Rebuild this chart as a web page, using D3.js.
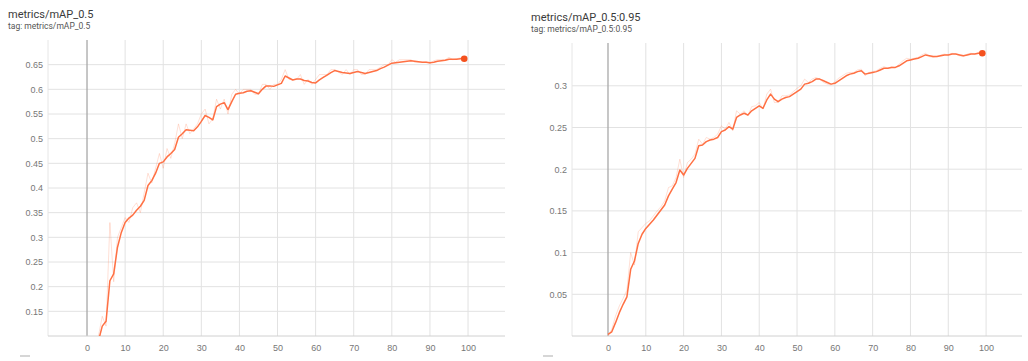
<!DOCTYPE html>
<html>
<head>
<meta charset="utf-8">
<script src="https://cdnjs.cloudflare.com/ajax/libs/d3/7.8.5/d3.min.js"></script>
<style>
  body { margin: 0; background: #fff; }
  svg { font-family: Roboto, "Noto Sans", sans-serif; }
  .tick text { fill: #777; font-size: 9px; }
</style>
</head>
<body>
<svg id="chart" width="1028" height="361"></svg>
<script>
// epochs 0..99
var epochs = d3.range(0, 100);

// metrics/mAP_0.5 (smoothed line and faint raw line)
var map50Smooth = [0.01, 0.03, 0.06, 0.09, 0.12, 0.13, 0.212, 0.226, 0.28, 0.31,
  0.33, 0.339, 0.345, 0.355, 0.363, 0.375, 0.405, 0.415, 0.43, 0.45,
  0.453, 0.463, 0.47, 0.478, 0.503, 0.51, 0.518, 0.517, 0.516, 0.524,
  0.535, 0.547, 0.543, 0.538, 0.565, 0.57, 0.573, 0.559, 0.575, 0.59,
  0.592, 0.593, 0.596, 0.597, 0.594, 0.591, 0.6, 0.607, 0.607, 0.606,
  0.609, 0.612, 0.627, 0.623, 0.619, 0.621, 0.621, 0.618, 0.617, 0.614,
  0.613, 0.619, 0.624, 0.629, 0.634, 0.638, 0.636, 0.634, 0.633, 0.632,
  0.634, 0.636, 0.634, 0.632, 0.634, 0.636, 0.638, 0.642, 0.645, 0.649,
  0.653, 0.654, 0.655, 0.656, 0.657, 0.658, 0.657, 0.656, 0.655, 0.655,
  0.654, 0.655, 0.657, 0.658, 0.659, 0.661, 0.661, 0.661, 0.662, 0.662];
var map50Raw = [0.0, 0.04, 0.07, 0.1, 0.14, 0.12, 0.33, 0.21, 0.3, 0.32,
  0.34, 0.33, 0.36, 0.37, 0.35, 0.39, 0.43, 0.41, 0.44, 0.47,
  0.44, 0.48, 0.46, 0.49, 0.53, 0.5, 0.53, 0.51, 0.52, 0.53,
  0.55, 0.56, 0.53, 0.54, 0.58, 0.56, 0.58, 0.55, 0.59, 0.6,
  0.59, 0.6, 0.6, 0.6, 0.59, 0.59, 0.61, 0.61, 0.6, 0.61,
  0.61, 0.62, 0.64, 0.62, 0.62, 0.62, 0.63, 0.61, 0.62, 0.61,
  0.62, 0.63, 0.63, 0.63, 0.64, 0.64, 0.635, 0.63, 0.64, 0.63,
  0.64, 0.64, 0.63, 0.63, 0.64, 0.64, 0.64, 0.645, 0.65, 0.65,
  0.66, 0.655, 0.66, 0.66, 0.66, 0.66, 0.655, 0.655, 0.655, 0.656,
  0.652, 0.658, 0.66, 0.66, 0.66, 0.665, 0.66, 0.662, 0.664, 0.662];

// metrics/mAP_0.5:0.95
var map5095Smooth = [0.002, 0.005, 0.016, 0.028, 0.038, 0.047, 0.08, 0.09, 0.111, 0.122,
  0.129, 0.134, 0.139, 0.145, 0.151, 0.157, 0.168, 0.176, 0.184, 0.199,
  0.193, 0.201, 0.207, 0.213, 0.228, 0.229, 0.233, 0.235, 0.236, 0.238,
  0.245, 0.247, 0.251, 0.248, 0.262, 0.265, 0.267, 0.265, 0.27, 0.273,
  0.276, 0.273, 0.283, 0.29, 0.284, 0.281, 0.284, 0.286, 0.287, 0.29,
  0.293, 0.296, 0.302, 0.303, 0.305, 0.308, 0.308, 0.306, 0.304, 0.302,
  0.303, 0.306, 0.309, 0.312, 0.314, 0.315, 0.317, 0.318, 0.314, 0.315,
  0.316, 0.317, 0.319, 0.321, 0.321, 0.322, 0.322, 0.324, 0.327, 0.33,
  0.331, 0.332, 0.333, 0.335, 0.337, 0.336, 0.335, 0.335, 0.336, 0.337,
  0.337, 0.338, 0.338, 0.337, 0.336, 0.337, 0.338, 0.338, 0.339, 0.339];
var map5095Raw = [0.0, 0.008, 0.024, 0.036, 0.045, 0.055, 0.1, 0.085, 0.125, 0.13,
  0.135, 0.138, 0.144, 0.15, 0.155, 0.162, 0.178, 0.18, 0.19, 0.212,
  0.19, 0.208, 0.212, 0.218, 0.236, 0.23, 0.238, 0.236, 0.238, 0.242,
  0.252, 0.248, 0.256, 0.246, 0.27, 0.266, 0.27, 0.264, 0.275, 0.276,
  0.28, 0.272, 0.29, 0.296, 0.28, 0.28, 0.288, 0.288, 0.289, 0.293,
  0.297, 0.3, 0.308, 0.304, 0.308, 0.31, 0.308, 0.304, 0.302, 0.301,
  0.305, 0.309, 0.312, 0.315, 0.316, 0.316, 0.319, 0.32, 0.312, 0.316,
  0.317, 0.318, 0.321, 0.323, 0.321, 0.323, 0.322, 0.326, 0.33, 0.333,
  0.332, 0.333, 0.334, 0.337, 0.339, 0.335, 0.334, 0.335, 0.337, 0.338,
  0.337, 0.339, 0.338, 0.336, 0.335, 0.338, 0.339, 0.338, 0.34, 0.339];

var leftYTicks = [0.15, 0.2, 0.25, 0.3, 0.35, 0.4, 0.45, 0.5, 0.55, 0.6, 0.65];
var rightYTicks = [0.05, 0.1, 0.15, 0.2, 0.25, 0.3];
var xTicks = [0, 10, 20, 30, 40, 50, 60, 70, 80, 90, 100];

var svg = d3.select("#chart");
var orange = "#ff7043";

function drawPanel(cfg) {
  var g = svg.append("g");

  var x = d3.scaleLinear().domain(cfg.xDomain).range([cfg.left, cfg.right]);
  var y = d3.scaleLinear().domain(cfg.yDomain).range([cfg.bottom, cfg.top]);

  // titles
  g.append("text").attr("x", cfg.titleX).attr("y", cfg.titleY)
    .attr("font-size", 11).attr("fill", "#3a3a3a").text(cfg.title);
  g.append("text").attr("x", cfg.titleX).attr("y", cfg.titleY + 11)
    .attr("font-size", 8.5).attr("fill", "#555").text("tag: " + cfg.title);

  // horizontal grid
  g.selectAll(".hgrid").data(cfg.yTicks).enter().append("line")
    .attr("x1", cfg.left).attr("x2", cfg.right)
    .attr("y1", function(d) { return y(d); })
    .attr("y2", function(d) { return y(d); })
    .attr("stroke", "#e2e2e2").attr("stroke-width", 1);

  // vertical grid
  g.selectAll(".vgrid").data(xTicks).enter().append("line")
    .attr("x1", function(d) { return x(d); })
    .attr("x2", function(d) { return x(d); })
    .attr("y1", cfg.top).attr("y2", cfg.bottom)
    .attr("stroke", function(d) { return d == 0 ? "#a8a8a8" : "#e2e2e2"; })
    .attr("stroke-width", function(d) { return d == 0 ? 1.3 : 1; });

  // left edge + bottom axis lines
  g.append("line").attr("x1", cfg.left).attr("x2", cfg.left)
    .attr("y1", cfg.top).attr("y2", cfg.bottom)
    .attr("stroke", "#e6e6e6");

  var xAxis = d3.axisBottom(x).tickValues(xTicks).tickSize(0).tickPadding(7)
    .tickFormat(d3.format("d"));
  var xg = g.append("g").attr("transform", "translate(0," + cfg.bottom + ")").call(xAxis);
  xg.select(".domain").attr("stroke", "#d0d0d0").attr("d", "M" + cfg.left + ",0H" + cfg.right);
  xg.selectAll(".tick text").attr("dy", "0.9em");

  var yAxis = d3.axisLeft(y).tickValues(cfg.yTicks).tickSize(0).tickPadding(5)
    .tickFormat(function(d) { return +d.toFixed(2) + ""; });
  var yg = g.append("g").attr("transform", "translate(" + cfg.left + ",0)").call(yAxis);
  yg.select(".domain").remove();

  // clip to plot area
  var clipId = "clip-" + cfg.id;
  svg.append("clipPath").attr("id", clipId).append("rect")
    .attr("x", cfg.left).attr("y", cfg.top)
    .attr("width", cfg.right - cfg.left).attr("height", cfg.bottom - cfg.top);

  var plot = g.append("g").attr("clip-path", "url(#" + clipId + ")");

  var line = d3.line()
    .x(function(d, i) { return x(epochs[i]); })
    .y(function(d) { return y(d); });

  plot.append("path").datum(cfg.raw)
    .attr("d", line).attr("fill", "none")
    .attr("stroke", orange).attr("stroke-opacity", 0.22).attr("stroke-width", 1);

  plot.append("path").datum(cfg.smooth)
    .attr("d", line).attr("fill", "none")
    .attr("stroke", orange).attr("stroke-width", 1.5)
    .attr("stroke-linejoin", "round");

  var last = cfg.smooth.length - 1;
  g.append("circle")
    .attr("cx", x(epochs[last])).attr("cy", y(cfg.smooth[last]))
    .attr("r", 3.3).attr("fill", "#f4511e");

  // small expand icon below the panel
  g.append("line").attr("x1", cfg.titleX + 12).attr("x2", cfg.titleX + 22)
    .attr("y1", 356).attr("y2", 356).attr("stroke", "#c8c8c8").attr("stroke-width", 1.5);
}

drawPanel({
  id: "a", title: "metrics/mAP_0.5", titleX: 8, titleY: 18,
  left: 48, right: 505, top: 40, bottom: 336,
  xDomain: [-10.24, 109.7], yDomain: [0.1, 0.7],
  yTicks: leftYTicks, smooth: map50Smooth, raw: map50Raw
});

drawPanel({
  id: "b", title: "metrics/mAP_0.5:0.95", titleX: 531, titleY: 20.5,
  left: 572, right: 1022, top: 43, bottom: 336,
  xDomain: [-9.52, 109.5], yDomain: [0, 0.3513],
  yTicks: rightYTicks, smooth: map5095Smooth, raw: map5095Raw
});
</script>
</body>
</html>
